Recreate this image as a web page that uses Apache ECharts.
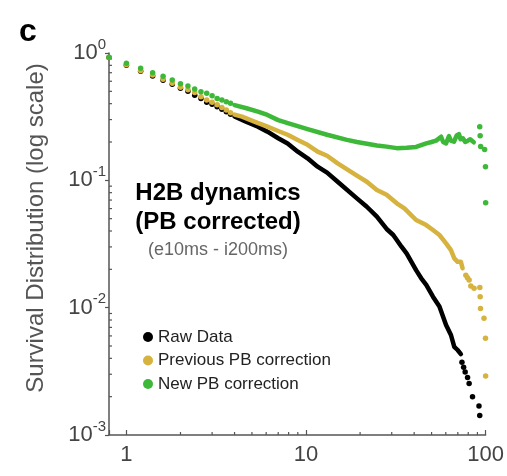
<!DOCTYPE html>
<html>
<head>
<meta charset="utf-8">
<script src="https://cdn.jsdelivr.net/npm/echarts@6/dist/echarts.min.js"></script>
<style>
  html, body { margin: 0; padding: 0; background: #fff; }
  #main { width: 507px; height: 476px; }
</style>
</head>
<body>
<div id="main"></div>
<script>
// first frames, still separate dots
const earlyT = [0.8, 1.0, 1.2, 1.4, 1.6, 1.8, 2.0, 2.2, 2.4, 2.6, 2.8, 3.0, 3.2, 3.4, 3.6, 3.8];
const rawEarly = [0.92, 0.80, 0.72, 0.66, 0.61, 0.568, 0.528, 0.50, 0.465, 0.44, 0.41, 0.395, 0.379, 0.361, 0.346, 0.33];
const prevEarly = [0.92, 0.81, 0.726, 0.672, 0.621, 0.578, 0.538, 0.515, 0.49, 0.454, 0.427, 0.41, 0.393, 0.374, 0.357, 0.34];
const newEarly = [0.925, 0.83, 0.758, 0.70, 0.656, 0.614, 0.574, 0.551, 0.521, 0.497, 0.482, 0.462, 0.44, 0.427, 0.414, 0.403];

// dense middle part (dots merge into a thick trace)
const rawMid = [[4.0, 0.318], [4.6, 0.29], [5.4, 0.264], [6.1, 0.241], [7.0, 0.214], [7.9, 0.195], [9.0, 0.168], [10.2, 0.149],
  [11.6, 0.128], [13.1, 0.115], [15, 0.0975], [19.2, 0.0722], [21.8, 0.062], [24.8, 0.0518], [28.1, 0.0415], [30.6, 0.0372],
  [34, 0.0301], [36.3, 0.0267], [41, 0.0197], [43.8, 0.017], [46.7, 0.0151], [50.9, 0.0122], [55.3, 0.0102], [60.2, 0.0073],
  [64.1, 0.0061], [66.9, 0.00493], [69.8, 0.00465], [72.8, 0.00432]];
const prevMid = [[4.0, 0.328], [4.4, 0.316], [5.2, 0.288], [6.1, 0.264], [7.0, 0.244], [7.9, 0.228], [9.0, 0.207], [10.2, 0.19],
  [11.6, 0.168], [13.1, 0.156], [15, 0.136], [19.2, 0.109], [21.8, 0.0975], [24.8, 0.0839], [28.1, 0.077], [32, 0.066],
  [35.3, 0.0603], [41, 0.0488], [46.7, 0.0445], [50.9, 0.0407], [55.3, 0.0372], [60.2, 0.032], [64.1, 0.0283],
  [66.9, 0.0244], [69.8, 0.0229], [72.8, 0.0229], [74.4, 0.0204]];
const newMid = [[4.0, 0.39], [4.66, 0.368], [5.4, 0.346], [6.1, 0.326], [7.0, 0.297], [8.0, 0.28], [10.2, 0.252], [13.1, 0.228],
  [16.9, 0.208], [19.2, 0.2], [24.8, 0.188], [28.1, 0.184], [32, 0.179], [36.3, 0.18], [41, 0.183], [46.7, 0.195],
  [50, 0.2], [53, 0.205], [56.5, 0.22], [58, 0.2], [60.2, 0.195], [62.5, 0.223], [64, 0.205], [66.6, 0.201], [69, 0.225],
  [71, 0.231], [72.5, 0.21], [74.7, 0.214], [77, 0.2], [79.6, 0.205], [82, 0.21], [85.9, 0.199]];

// sparse tail
const rawTail = [[73.8, 0.00372], [75.4, 0.0034], [76.9, 0.00312], [79.3, 0.00283], [80.9, 0.00254], [84.5, 0.002],
  [91.8, 0.00169], [92.7, 0.00142]];
const prevTail = [[77.6, 0.018], [79.2, 0.0172], [80.9, 0.0165], [82.7, 0.0148], [86.2, 0.0142], [92.8, 0.0144],
  [93.2, 0.0122], [93.6, 0.00987], [97.9, 0.00824], [99.8, 0.00574], [100, 0.0029]];
const newTail = [[92.7, 0.264], [93.2, 0.224], [93.8, 0.184], [98.7, 0.175], [99.8, 0.128], [100, 0.0667]];

const seriesNames = ['Raw Data', 'Previous PB correction', 'New PB correction'];
const seriesColors = ['#000000', '#d6b23e', '#3db839'];

// minor tick values
const xMinor = [2, 3, 4, 5, 6, 7, 8, 9, 20, 30, 40, 50, 60, 70, 80, 90];
const yMinor = [0.002, 0.003, 0.004, 0.005, 0.006, 0.007, 0.008, 0.009,
  0.02, 0.03, 0.04, 0.05, 0.06, 0.07, 0.08, 0.09,
  0.2, 0.3, 0.4, 0.5, 0.6, 0.7, 0.8, 0.9];

const axisColor = '#555';
const FONT = '"Liberation Sans", Arial, sans-serif';

function pairs(xs, ys) {
  return xs.map((x, i) => [x, ys[i]]);
}
function isPow10(v) {
  let e = Math.log10(v);
  return Math.abs(e - Math.round(e)) < 1e-6;
}

let groups = [
  { early: rawEarly, mid: rawMid, tail: rawTail },
  { early: prevEarly, mid: prevMid, tail: prevTail },
  { early: newEarly, mid: newMid, tail: newTail }
];

let series = [];
groups.forEach((g, i) => {
  series.push({
    name: seriesNames[i],
    type: 'scatter',
    data: pairs(earlyT, g.early).concat(g.tail),
    symbol: 'circle',
    symbolSize: 5.5,
    itemStyle: { color: seriesColors[i], opacity: 1 }
  });
  series.push({
    name: seriesNames[i],
    type: 'line',
    data: g.mid,
    showSymbol: false,
    symbol: 'none',
    itemStyle: { color: seriesColors[i], opacity: 1 },
    lineStyle: { color: seriesColors[i], width: 4.5, cap: 'round', join: 'round', opacity: 1 }
  });
});

const chart = echarts.init(document.getElementById('main'));

chart.setOption({
  animation: false,
  backgroundColor: '#fff',
  textStyle: { fontFamily: FONT },
  grid: { left: 109, right: 17, top: 53, bottom: 41 },
  legend: {
    orient: 'vertical',
    left: 138,
    top: 323,
    itemWidth: 10,
    itemHeight: 10,
    itemGap: 5.5,
    data: seriesNames.map((n, i) => ({ name: n, icon: 'circle', itemStyle: { color: seriesColors[i], opacity: 1 } })),
    textStyle: { fontSize: 17, color: '#222', lineHeight: 18, fontFamily: FONT }
  },
  xAxis: {
    type: 'log',
    logBase: 10,
    min: 0.8,
    max: 100,
    axisLine: { lineStyle: { color: axisColor, width: 1.5 } },
    axisTick: { show: true, inside: true, length: 5, lineStyle: { color: axisColor, width: 1.2 } },
    splitLine: { show: false },
    axisLabel: {
      margin: 9,
      fontSize: 22,
      color: '#444',
      fontFamily: FONT,
      formatter: v => isPow10(v) ? String(Math.round(v)) : ''
    }
  },
  yAxis: {
    type: 'log',
    logBase: 10,
    min: 0.001,
    max: 1,
    axisLine: { show: true, lineStyle: { color: axisColor, width: 1.5 } },
    axisTick: { show: true, inside: false, length: 4, lineStyle: { color: axisColor, width: 1.2 } },
    splitLine: { show: false },
    axisLabel: {
      margin: 3,
      fontFamily: FONT,
      formatter: v => isPow10(v) ? '{b|10}{s|' + Math.round(Math.log10(v)) + '}' : '',
      rich: {
        b: { fontSize: 22, color: '#444', lineHeight: 32, fontFamily: FONT },
        s: { fontSize: 15, color: '#444', lineHeight: 13, verticalAlign: 'top', fontFamily: FONT }
      }
    }
  },
  series: series
});

// minor ticks + texts, placed through the axis scales
let x0 = chart.convertToPixel({ xAxisIndex: 0 }, 0.8);
let yBottom = chart.convertToPixel({ yAxisIndex: 0 }, 0.001);
let graphics = [];
xMinor.forEach(v => {
  let px = chart.convertToPixel({ xAxisIndex: 0 }, v);
  graphics.push({
    type: 'line', silent: true,
    shape: { x1: px, y1: yBottom, x2: px, y2: yBottom - 3 },
    style: { stroke: axisColor, lineWidth: 1.2 }
  });
});
yMinor.forEach(v => {
  let py = chart.convertToPixel({ yAxisIndex: 0 }, v);
  graphics.push({
    type: 'line', silent: true,
    shape: { x1: x0, y1: py, x2: x0 + 3, y2: py },
    style: { stroke: axisColor, lineWidth: 1.2 }
  });
});

graphics.push(
  { type: 'text', x: 28, y: 32, style: { text: 'c', fontSize: 32, fontWeight: 'bold', fontFamily: FONT, fill: '#000', align: 'center', verticalAlign: 'middle' } },
  { type: 'text', x: 36.5, y: 228, rotation: Math.PI / 2, style: { text: 'Survival Distribution (log scale)', fontSize: 24, fontFamily: FONT, fill: '#555', align: 'center', verticalAlign: 'middle' } },
  { type: 'text', x: 218, y: 193, style: { text: 'H2B dynamics', fontSize: 24, fontWeight: 'bold', fontFamily: FONT, fill: '#000', align: 'center', verticalAlign: 'middle' } },
  { type: 'text', x: 218, y: 222, style: { text: '(PB corrected)', fontSize: 24, fontWeight: 'bold', fontFamily: FONT, fill: '#000', align: 'center', verticalAlign: 'middle' } },
  { type: 'text', x: 218, y: 250, style: { text: '(e10ms - i200ms)', fontSize: 18, fontFamily: FONT, fill: '#666', align: 'center', verticalAlign: 'middle' } }
);

chart.setOption({ graphic: graphics });
</script>
</body>
</html>
